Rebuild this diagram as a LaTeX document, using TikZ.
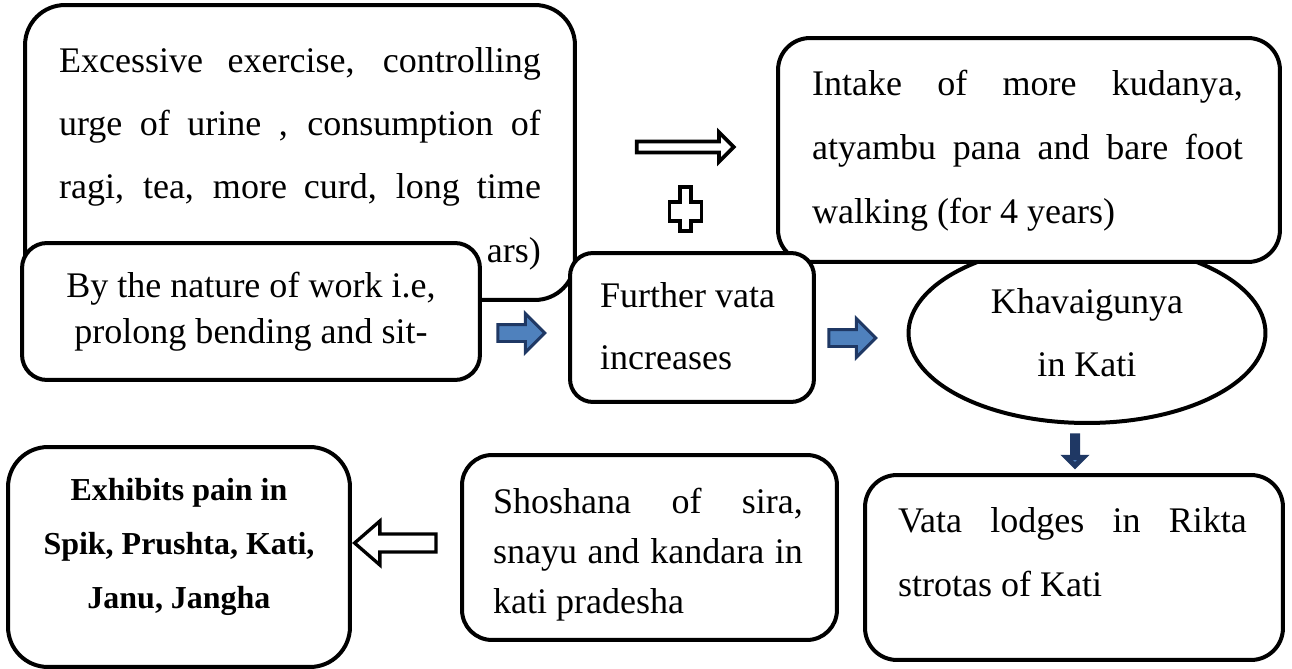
\documentclass[tikz,border=0pt]{standalone}
\usepackage{fontspec}
\setmainfont{Liberation Serif}
\usetikzlibrary{shapes.geometric,shapes.arrows}
\definecolor{arrowblue}{HTML}{4F81BD}
\definecolor{arrowedge}{HTML}{1F3864}
\newcommand{\jl}[2]{\makebox[#1][s]{#2}}
\newcommand{\boxtxt}[6]{\parbox[c][#2][t]{#1}{\vspace*{#3}\setlength{\leftskip}{#4}\setlength{\baselineskip}{#5}#6\par}}

\begin{document}
\begin{tikzpicture}[x=0.02cm,y=-0.02cm,
    txt/.style={font=\fontsize{20.5pt}{25pt}\selectfont},
    blk/.style={draw,line width=0.08cm,rounded corners=#1,fill=white,inner sep=0pt,outer sep=0pt,txt},
    blk/.default=0.6cm,
    hollow/.style={draw,fill=white,line width=0.075cm},
    arr/.style={single arrow,inner xsep=0pt,outer sep=0pt},
    bluearr/.style={arr,draw=arrowedge,fill=arrowblue,line width=0.06cm,inner ysep=0.14cm,
      minimum height=0.94cm,single arrow head extend=0.22cm}]
  \useasboundingbox (0,0) rectangle (1292,669);
  % causes
  \node[blk=0.8cm] (excess) at (300,152.5) {\boxtxt{11cm}{5.9cm}{0.84cm}{0.68cm}{1.27cm}{%
      \jl{9.64cm}{Excessive exercise, controlling}\\
      \jl{9.64cm}{urge of urine , consumption of}\\
      \jl{9.64cm}{ragi, tea, more curd, long time}\\
      \makebox[9.64cm][r]{ars)}}};
  \node[blk=0.5cm] (nature) at (251,311.5) {\boxtxt{9.16cm}{2.74cm}{0.58cm}{0pt}{0.92cm}{%
      \centering By the nature of work i.e,\\ prolong bending and sit-}};
  \node[ellipse,draw,line width=0.08cm,fill=white,inner sep=0pt,minimum width=7.14cm,minimum height=3.6cm,
    align=center,font=\fontsize{20.5pt}{1.26cm}\selectfont] (khava) at (1087,333) {Khavaigunya\\ in Kati};
  \node[blk=0.64cm] (intake) at (1029,150) {\boxtxt{10.04cm}{4.48cm}{0.64cm}{0.68cm}{1.28cm}{%
      \jl{8.62cm}{Intake of more kudanya,}\\
      \jl{8.62cm}{atyambu pana and bare foot}\\
      walking (for 4 years)}};
  \node[blk=0.46cm] (further) at (692,327.5) {\boxtxt{4.88cm}{2.98cm}{0.58cm}{0.6cm}{1.26cm}{%
      Further vata\\ increases}};
  % effects
  \node[blk=0.64cm] (lodge) at (1074,567.5) {\boxtxt{8.36cm}{3.7cm}{0.64cm}{0.66cm}{1.3cm}{%
      \jl{6.98cm}{Vata lodges in Rikta}\\ strotas of Kati}};
  \node[blk=0.6cm] (shosh) at (649.5,547.5) {\boxtxt{7.5cm}{3.7cm}{0.66cm}{0.62cm}{1.0cm}{%
      \jl{6.2cm}{Shoshana of sira,}\\
      \jl{6.2cm}{snayu and kandara in}\\
      kati pradesha}};
  \node[blk=0.8cm,font=\fontsize{18.2pt}{22pt}\bfseries\selectfont] (pain) at (179,557) {%
      \boxtxt{6.84cm}{4.4cm}{0.62cm}{0pt}{1.08cm}{\centering Exhibits pain in\\ Spik, Prushta, Kati,\\ Janu, Jangha}};
  % arrows
  \node[arr,hollow,inner ysep=0.075cm,minimum height=1.94cm,
    single arrow head extend=0.185cm] (arrtop) at (682.5,147) {};
  \coordinate (plus) at (685.5,209);
  \draw[hollow] (plus) ++(-5.5,-22) -- ++(11,0) -- ++(0,15) -- ++(10.5,0) -- ++(0,19) -- ++(-10.5,0)
    -- ++(0,10) -- ++(-11,0) -- ++(0,-10) -- ++(-10.5,0) -- ++(0,-19) -- ++(10.5,0) -- cycle;
  \node[bluearr] (arrone) at (517,333) {};
  \node[bluearr] (arrtwo) at (848,338) {};
  \node[bluearr,shape border rotate=270,line width=0.1cm,inner ysep=0.08cm,minimum height=0.6cm,
    single arrow head extend=0.12cm] (arrdown) at (1075,449.5) {};
  \node[arr,hollow,line width=0.066cm,shape border rotate=180,inner ysep=0.147cm,minimum height=1.63cm,
    single arrow head extend=0.26cm,single arrow tip angle=82] (arrleft) at (400.5,543) {};
\end{tikzpicture}
\end{document}
